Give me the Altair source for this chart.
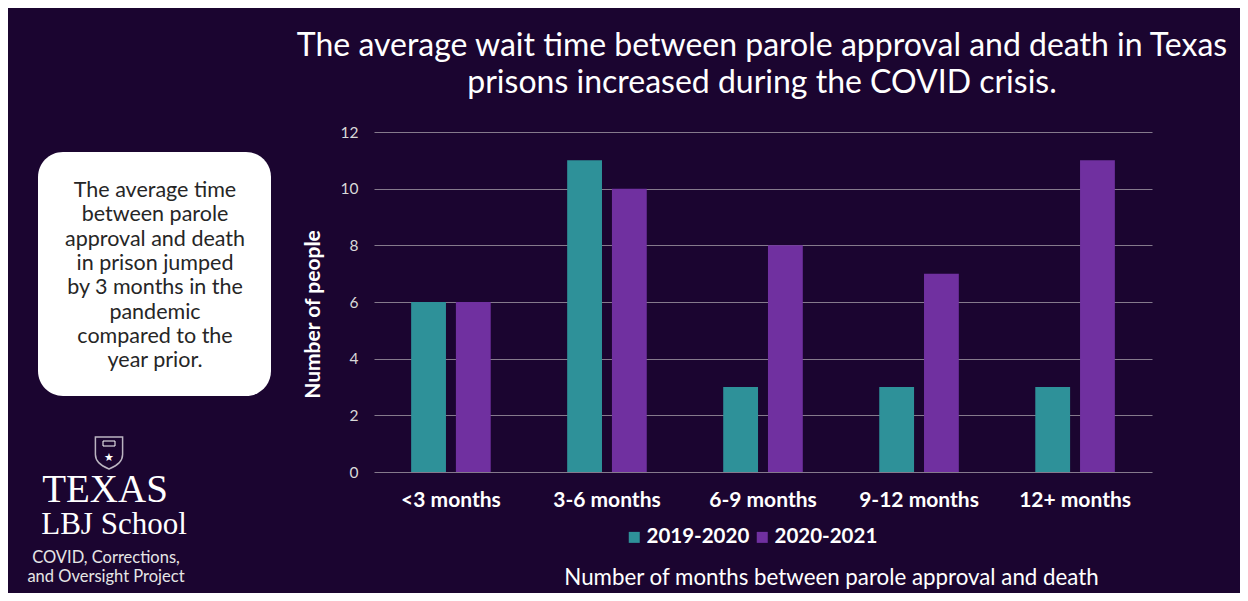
import altair as alt
import pandas as pd

categories = ["<3 months", "3-6 months", "6-9 months", "9-12 months", "12+ months"]
series = ["2019-2020", "2020-2021"]
values_2019_2020 = [6, 11, 3, 3, 3]
values_2020_2021 = [6, 10, 8, 7, 11]
y_ticks = [0, 2, 4, 6, 8, 10, 12]

title_lines = [
    "The average wait time between parole approval and death in Texas",
    "prisons increased during the COVID crisis.",
]
box_lines = [
    "The average time",
    "between parole",
    "approval and death",
    "in prison jumped",
    "by 3 months in the",
    "pandemic",
    "compared to the",
    "year prior.",
]
logo_line1 = "TEXAS"
logo_line2 = "LBJ School"
project_lines = ["COVID, Corrections,", "and Oversight Project"]

BG = "#1b0530"
TEAL = "#2e9199"
PURPLE = "#7030a0"
FONT = "Lato"

rows = []
for c, a, b in zip(categories, values_2019_2020, values_2020_2021):
    rows.append({"category": c, "series": series[0], "value": a})
    rows.append({"category": c, "series": series[1], "value": b})
df = pd.DataFrame(rows)

one = pd.DataFrame({"k": [0]})

bars = alt.Chart(df).mark_bar().encode(
    x=alt.X(
        "category:N",
        sort=categories,
        scale=alt.Scale(paddingInner=0.49, paddingOuter=0.238),
        axis=alt.Axis(
            title="Number of months between parole approval and death",
            labelFontSize=21, labelFontWeight="bold", labelColor="white",
            labelPadding=17, ticks=False, domain=False, labelAngle=0,
            labelFont=FONT, titleFont=FONT,
            titleFontSize=22.3, titleFontWeight="normal", titleColor="white",
            titleX=457, titleY=112, titleAlign="center", titleBaseline="alphabetic",
        ),
    ),
    xOffset=alt.XOffset("series:N", sort=series,
                        scale=alt.Scale(paddingInner=0.222, paddingOuter=0)),
    y=alt.Y(
        "value:Q",
        scale=alt.Scale(domain=[0, 12]),
        axis=alt.Axis(
            values=y_ticks, title="Number of people",
            titleFontSize=21, titleFontWeight="bold", titleColor="white",
            titleX=-61, titleY=182, titleAngle=270, titleAlign="center",
            titleBaseline="middle", titleFont=FONT, labelFont=FONT,
            labelFontSize=15.5, labelColor="#d9d9d9", labelPadding=16,
            ticks=False, domain=False, gridColor="#857a8c", gridWidth=1,
        ),
    ),
    color=alt.Color(
        "series:N",
        scale=alt.Scale(domain=series, range=[TEAL, PURPLE]),
        legend=alt.Legend(
            title=None, orient="none", legendX=250, legendY=395,
            direction="horizontal", symbolType="square", symbolSize=121,
            symbolStrokeWidth=0, labelFontSize=20.5, labelFontWeight="bold",
            labelColor="white", labelFont=FONT, labelOffset=2, columnPadding=2,
            padding=0,
        ),
    ),
)

title = alt.Chart(one).mark_text(
    font=FONT, fontSize=32, color="white", align="center",
    baseline="alphabetic", lineHeight=36.5,
).encode(x=alt.value(388), y=alt.value(-76), text=alt.value(title_lines))

box = alt.Chart(one).mark_rect(color="white", cornerRadius=25).encode(
    x=alt.value(-336), x2=alt.value(-103), y=alt.value(20), y2=alt.value(264)
)

box_text = alt.Chart(one).mark_text(
    font=FONT, fontSize=21.5, color="#262626", align="center",
    baseline="alphabetic", lineHeight=24.3,
).encode(x=alt.value(-219), y=alt.value(65), text=alt.value(box_lines))

shield_path = ("M -0.85 -1 L 0.85 -1 L 0.85 0.1 C 0.85 0.6 0.4 0.85 0 1 "
               "C -0.4 0.85 -0.85 0.6 -0.85 0.1 Z")
shield = alt.Chart(one).mark_point(
    shape=shield_path, filled=False, stroke="white", strokeWidth=1.5, size=1024
).encode(x=alt.value(-265), y=alt.value(321))
star = alt.Chart(one).mark_text(
    text="★", fontSize=11, color="white", font="DejaVu Sans"
).encode(x=alt.value(-265), y=alt.value(326))
book = alt.Chart(one).mark_rect(
    filled=False, stroke="white", strokeWidth=1
).encode(x=alt.value(-271), x2=alt.value(-259), y=alt.value(309), y2=alt.value(314))

texas = alt.Chart(one).mark_text(
    font="Liberation Serif", fontSize=39, color="white", align="center",
    baseline="alphabetic",
).encode(x=alt.value(-269), y=alt.value(370), text=alt.value(logo_line1))
lbj = alt.Chart(one).mark_text(
    font="Liberation Serif", fontSize=31, color="white", align="center",
    baseline="alphabetic",
).encode(x=alt.value(-260), y=alt.value(402), text=alt.value(logo_line2))
project = alt.Chart(one).mark_text(
    font=FONT, fontSize=16.5, color="#e6e6e6", align="center",
    baseline="alphabetic", lineHeight=19,
).encode(x=alt.value(-268), y=alt.value(431), text=alt.value(project_lines))

chart = alt.layer(
    box, box_text, shield, star, book, texas, lbj, project, title, bars
).properties(
    width=778, height=340,
    autosize=alt.AutoSizeParams(type="none"),
    padding={"left": 366, "top": 124, "right": 88, "bottom": 121},
).configure(
    background=BG, font=FONT
).configure_view(stroke=None)

chart.save("out.html", embed_options={"renderer": "svg", "actions": False})
